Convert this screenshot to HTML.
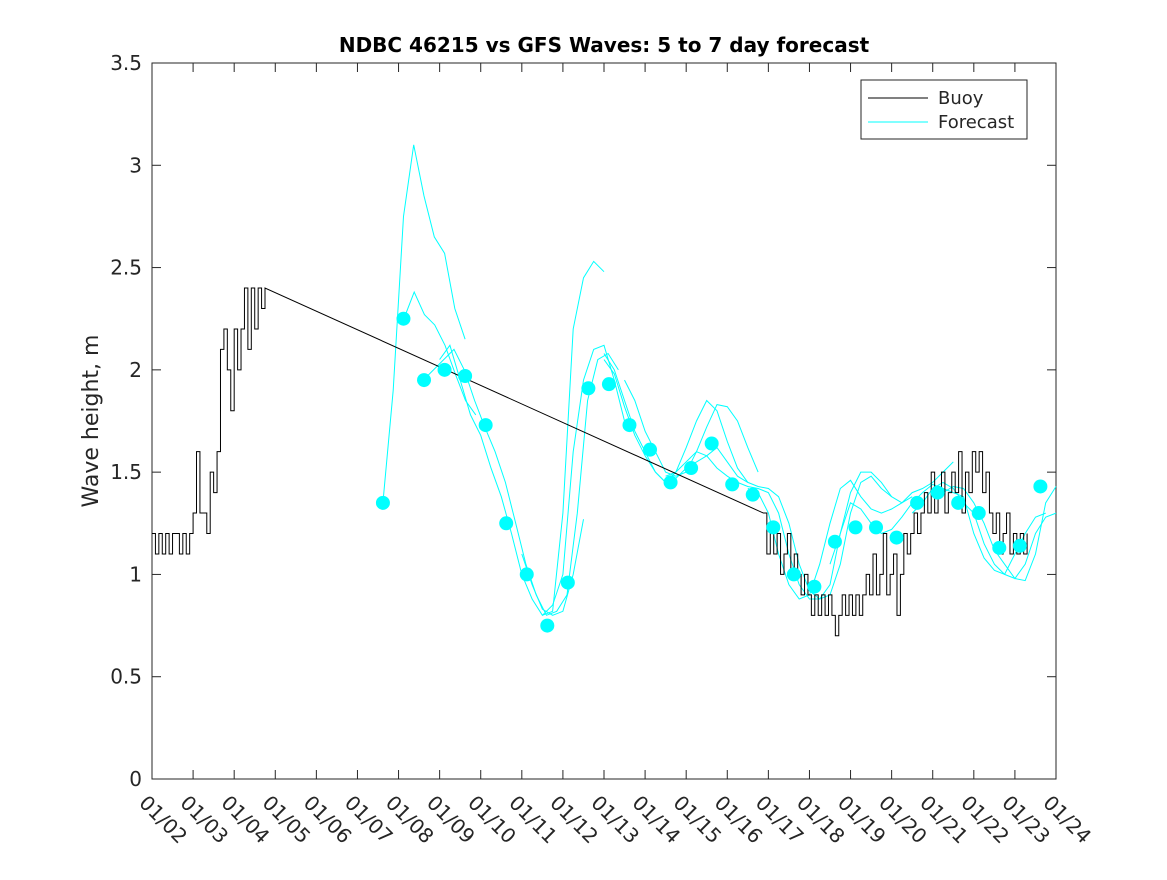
<!DOCTYPE html>
<html><head><meta charset="utf-8"><style>
body{margin:0;background:#fff}
svg text{font-family:"DejaVu Sans","Liberation Sans",sans-serif;fill:#262626}
</style></head><body>
<svg id="chart" width="1167" height="875" xmlns="http://www.w3.org/2000/svg">
<rect width="1167" height="875" fill="#fff"/>
<g id="plot"></g>
<text x="604" y="52" text-anchor="middle" font-size="20" font-weight="bold" style="fill:#000">NDBC 46215 vs GFS Waves: 5 to 7 day forecast</text>
<text transform="translate(98,421) rotate(-90)" text-anchor="middle" font-size="22">Wave height, m</text>
<g>
<rect x="861" y="80" width="166" height="59" fill="#fff" stroke="#262626" stroke-width="1"/>
<line x1="868" y1="98" x2="928" y2="98" stroke="#000"/>
<text x="938" y="104" font-size="18">Buoy</text>
<line x1="868" y1="122" x2="928" y2="122" stroke="#00ffff"/>
<text x="938" y="128" font-size="18">Forecast</text>
</g>
</svg>
<script>
const xTickLabels=["01/02","01/03","01/04","01/05","01/06","01/07","01/08","01/09","01/10","01/11","01/12","01/13","01/14","01/15","01/16","01/17","01/18","01/19","01/20","01/21","01/22","01/23","01/24"];
const yTicks=[0,0.5,1,1.5,2,2.5,3,3.5];
const yTickLabels=["0","0.5","1","1.5","2","2.5","3","3.5"];
const buoyStep=1/12;
const buoyStart1=0;
const buoyVals1=[1.2,1.1,1.2,1.1,1.2,1.1,1.2,1.2,1.1,1.2,1.1,1.2,1.3,1.6,1.3,1.3,1.2,1.5,1.4,1.6,2.1,2.2,2.0,1.8,2.2,2.0,2.2,2.4,2.1,2.4,2.2,2.4,2.3,2.4];
const buoyStart2=14.88;
const buoyVals2=[1.3,1.1,1.2,1.1,1.2,1.0,1.1,1.2,1.0,1.1,1.0,0.9,1.0,0.9,0.8,0.9,0.8,0.9,0.8,0.9,0.8,0.7,0.8,0.9,0.8,0.9,0.8,0.9,0.8,0.9,1.0,0.9,1.1,0.9,1.0,1.2,0.9,1.0,1.1,0.8,1.0,1.2,1.1,1.2,1.3,1.2,1.3,1.4,1.3,1.5,1.3,1.4,1.5,1.3,1.4,1.5,1.4,1.6,1.3,1.5,1.4,1.6,1.5,1.6,1.4,1.5,1.3,1.2,1.3,1.1,1.2,1.3,1.1,1.2,1.1,1.2,1.1,1.2];
const dotStart=5.62, dotStep=0.5;
const dotVals=[1.35,2.25,1.95,2.0,1.97,1.73,1.25,1.0,0.75,0.96,1.91,1.93,1.73,1.61,1.45,1.52,1.64,1.44,1.39,1.23,1.0,0.94,1.16,1.23,1.23,1.18,1.35,1.40,1.35,1.30,1.13,1.14,1.43];
const fcStep=0.25;
const fcStarts=[5.62,9.5,6.13,6.6,7.0,9.0,11.0,11.5,11.0,12.5,14.5,16.5,18.5,19.0];
const fcA=[1.35,1.9,2.75,3.1,2.85,2.65,2.57,2.3,2.15];
const fcA2=[0.8,0.82,1.3,2.2,2.45,2.53,2.48];
const fcB=[2.25,2.38,2.27,2.22,2.12,1.98,1.85,1.78];
const fcC=[1.95,2.0,2.05,2.1,2.0,1.85,1.72,1.6,1.45,1.25,1.05,0.9,0.8,0.82,0.9,1.3,1.85,2.05,2.08,2.0];
const fcD=[2.05,2.12,1.95,1.78,1.68,1.52,1.38,1.2,1.0,0.88,0.8,0.85,1.0,1.6,1.95,2.1,2.12,1.95,1.75];
const fcE0=[1.1,0.95,0.83,0.8,0.82,1.0,1.27];
const fcE=[2.08,2.0,1.85,1.7,1.6,1.5,1.45,1.5,1.62,1.75,1.85,1.8,1.65,1.52,1.45];
const fcF=[1.95,1.85,1.7,1.6,1.5,1.48,1.5,1.6,1.72,1.83,1.82,1.75,1.62,1.5];
const fcG=[2.05,1.98,1.82,1.68,1.58,1.5,1.45,1.47,1.52,1.55,1.58,1.62,1.55,1.48,1.45,1.43,1.42,1.38,1.25,1.05,0.92,0.88,0.9,1.05,1.3,1.45,1.48,1.42,1.38,1.35,1.38];
const fcH=[1.48,1.5,1.55,1.6,1.58,1.52,1.48,1.45,1.43,1.42,1.4,1.3,1.1,0.95,0.88,0.88,0.95,1.2,1.4,1.5,1.5,1.45,1.38];
const fcI=[1.42,1.4,1.3,1.1,0.95,0.88,0.9,1.05,1.25,1.42,1.46,1.38,1.32,1.3,1.32,1.35,1.4,1.42,1.45,1.5,1.55];
const fcJ=[1.05,1.2,1.35,1.32,1.25,1.2,1.22,1.28,1.35,1.4,1.44,1.42,1.4,1.38,1.2,1.08,1.02,1.0,1.1,1.2,1.28,1.3];
const fcK=[1.3,1.35,1.42,1.45,1.42,1.35,1.3,1.15,1.05,1.0,0.98,0.97,1.1,1.35,1.43];
const fcL=[1.38,1.4,1.43,1.42,1.35,1.25,1.12,1.05,0.98,1.05,1.2,1.28,1.3];
const fcSeries=[fcA,fcA2,fcB,fcC,fcD,fcE0,fcE,fcF,fcG,fcH,fcI,fcJ,fcK,fcL];

const X0=152,X1=1056,Y0=779,Y1=63;
const xs=d=>X0+d*(X1-X0)/22;
const ys=v=>Y0-v*(Y0-Y1)/3.5;
const NS="http://www.w3.org/2000/svg";
const plot=document.getElementById('plot');
function mk(t,a){const e=document.createElementNS(NS,t);for(const k in a)e.setAttribute(k,a[k]);plot.appendChild(e);return e;}

const fr=mk('rect',{x:X0,y:Y1,width:X1-X0,height:Y0-Y1,fill:'none',stroke:'#262626','stroke-width':1});


xTickLabels.forEach((l,i)=>{
  const x=xs(i);
  mk('line',{x1:x,y1:Y0,x2:x,y2:Y0-9,stroke:'#262626'});
  mk('line',{x1:x,y1:Y1,x2:x,y2:Y1+9,stroke:'#262626'});
  const t=mk('text',{transform:`translate(${x-14},${Y0+25}) rotate(45)`,'font-size':20});
  t.textContent=l;
  
  
});
yTicks.forEach((v,i)=>{
  const y=ys(v);
  mk('line',{x1:X0,y1:y,x2:X0+9,y2:y,stroke:'#262626'});
  mk('line',{x1:X1,y1:y,x2:X1-9,y2:y,stroke:'#262626'});
  const t=mk('text',{x:X0-10,y:y+7,'text-anchor':'end','font-size':20});
  t.textContent=yTickLabels[i];
  
  
});
fcSeries.forEach((s,j)=>{
  const p=s.map((v,i)=>xs(fcStarts[j]+i*fcStep).toFixed(1)+','+ys(v).toFixed(1)).join(' ');
  const l=mk('polyline',{points:p,fill:'none',stroke:'#00ffff','stroke-width':1});
  
  
});
let pts=[];
buoyVals1.forEach((v,i)=>{const x=xs(buoyStart1+i*buoyStep);if(i>0)pts.push(x+','+ys(buoyVals1[i-1]));pts.push(x+','+ys(v));});
buoyVals2.forEach((v,i)=>{const x=xs(buoyStart2+i*buoyStep);if(i>0)pts.push(x+','+ys(buoyVals2[i-1]));pts.push(x+','+ys(v));});
const bl=mk('polyline',{points:pts.join(' '),fill:'none',stroke:'#000','stroke-width':1});


dotVals.forEach((v,i)=>{
  const c=mk('circle',{cx:xs(dotStart+i*dotStep),cy:ys(v),r:7,fill:'#00ffff'});
  
  
});
</script>
</body></html>
